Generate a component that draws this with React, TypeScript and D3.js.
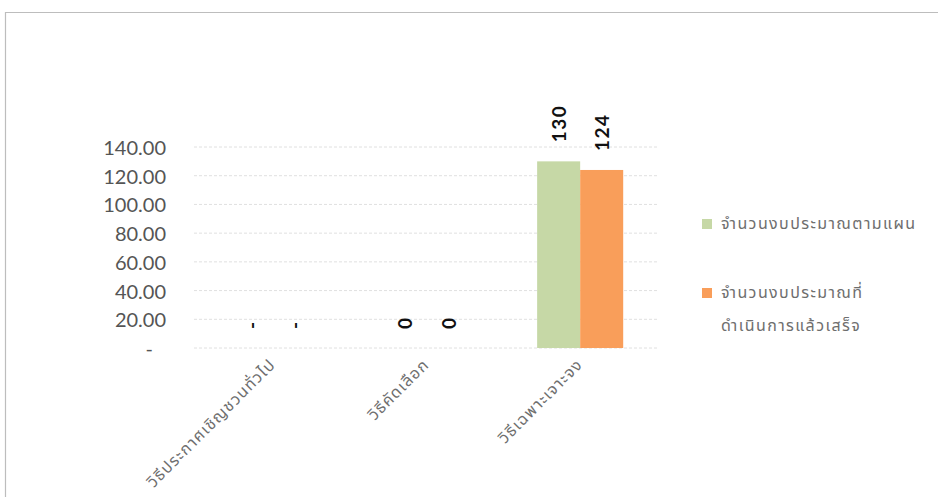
import React from "react";
import * as d3 from "d3";

const categories = ["วิธีประกาศเชิญชวนทั่วไป", "วิธีคัดเลือก", "วิธีเฉพาะเจาะจง"];
const seriesNames = ["จำนวนงบประมาณตามแผน", "จำนวนงบประมาณที่ดำเนินการแล้วเสร็จ"];
const legendLines = [["จำนวนงบประมาณตามแผน"], ["จำนวนงบประมาณที่", "ดำเนินการแล้วเสร็จ"]];
const planValues: (number | null)[] = [null, 0, 130];
const actualValues: (number | null)[] = [null, 0, 124];
const yTicks = [0, 20, 40, 60, 80, 100, 120, 140];
const colors = ["#c6d8a6", "#f99e5a"];

const W = 938;
const H = 497;

export default function App() {
  const x0 = d3
    .scaleBand<string>()
    .domain(categories)
    .range([196, 657])
    .paddingInner(0.44)
    .paddingOuter(0.22);
  const x1 = d3
    .scaleBand<string>()
    .domain(seriesNames)
    .range([0, x0.bandwidth()]);
  const y = d3.scaleLinear().domain([0, 140]).range([348, 147]);
  const series = [planValues, actualValues];
  const fmtTick = (v: number) => (v === 0 ? "-" : d3.format(".2f")(v));
  const fmtLabel = (v: number | null) => (v == null ? "-" : d3.format("d")(v));
  const thaiFont = "'Noto Sans Thai', 'Noto Sans Thai UI', Loma, Garuda, 'Noto Sans', sans-serif";

  return (
    <svg width={W} height={H} style={{ position: "absolute", left: 0, top: 0, background: "#fff" }}>
      <rect x={0} y={0} width={W} height={H} fill="#fff" />
      <path d={`M5.5,${H} V12.5 H${W}`} fill="none" stroke="#bdbdbd" strokeWidth={1.2} />
      {yTicks.map((t) => (
        <g key={t}>
          <line
            x1={194}
            x2={659}
            y1={y(t)}
            y2={y(t)}
            stroke="#e0e0e0"
            strokeWidth={1}
            strokeDasharray="3,2"
          />
          <text
            x={t === 0 ? 153 : 166}
            y={y(t)}
            dominantBaseline="central"
            textAnchor="end"
            fontFamily="Lato, 'Open Sans', sans-serif"
            fontSize={20}
            fill="#555"
          >
            {fmtTick(t)}
          </text>
        </g>
      ))}
      {categories.map((c, i) => (
        <g key={c} transform={`translate(${x0(c)},0)`}>
          {series.map((vals, s) => {
            const v = vals[i] ?? 0;
            const bx = x1(seriesNames[s])!;
            return (
              <rect
                key={s}
                x={bx}
                y={y(v)}
                width={x1.bandwidth()}
                height={y(0) - y(v)}
                fill={colors[s]}
              />
            );
          })}
          {series.map((vals, s) => {
            const v = vals[i];
            const cx = x1(seriesNames[s])! + x1.bandwidth() / 2;
            const ty = y(v ?? 0) - 19;
            return (
              <text
                key={"l" + s}
                transform={`translate(${cx},${ty}) rotate(-90)`}
                textAnchor="start"
                dominantBaseline="central"
                fontFamily="Lato, 'Open Sans', sans-serif"
                fontWeight="bold"
                fontSize={19}
                letterSpacing={1.5}
                fill="#111"
              >
                {fmtLabel(v)}
              </text>
            );
          })}
        </g>
      ))}
      {categories.map((c) => {
        const cx = x0(c)! + x0.bandwidth() / 2;
        return (
          <text
            key={"c" + c}
            transform={`translate(${cx},362) rotate(-45)`}
            textAnchor="end"
            dominantBaseline="central"
            fontFamily={thaiFont}
            fontSize={16}
            letterSpacing={1.2}
            fill="#6e6e6e"
          >
            {c}
          </text>
        );
      })}
      {legendLines.map((lines, s) => (
        <g key={"lg" + s} transform={`translate(702,${224 + s * 69})`}>
          <rect x={0} y={-5} width={10} height={10} fill={colors[s]} />
          {lines.map((ln, k) => (
            <text
              key={k}
              x={19}
              y={k * 33}
              dominantBaseline="central"
              fontFamily={thaiFont}
              fontSize={16}
              letterSpacing={1.4}
              fill="#6e6e6e"
            >
              {ln}
            </text>
          ))}
        </g>
      ))}
    </svg>
  );
}
